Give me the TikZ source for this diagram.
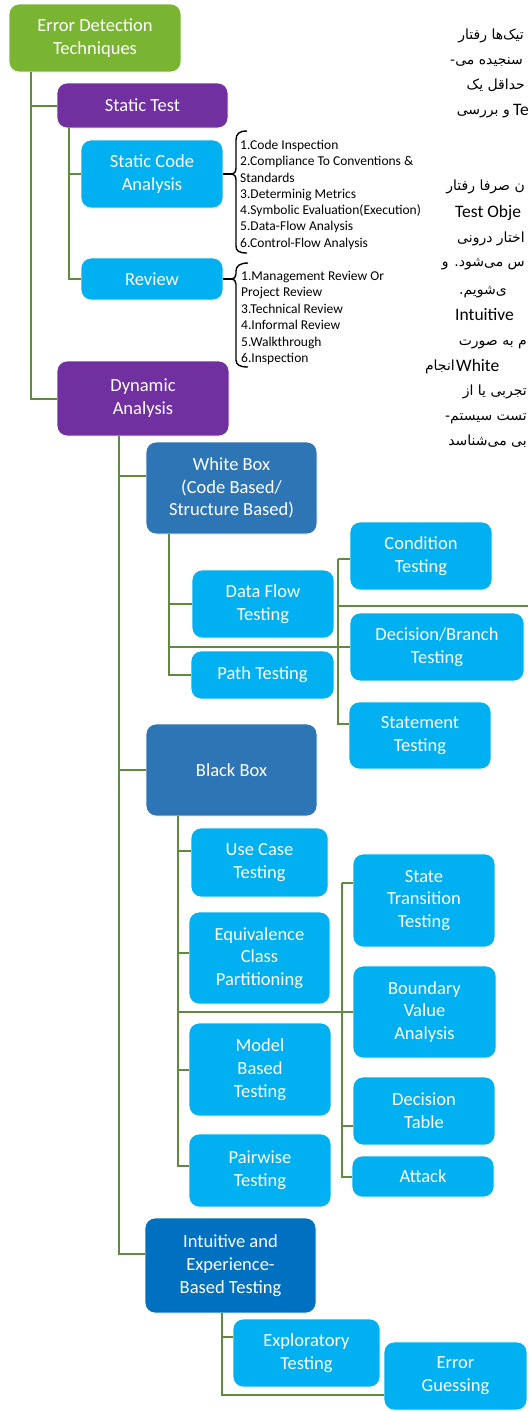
\documentclass[tikz,border=0pt]{standalone}
\usepackage{fontspec}
\setmainfont{Carlito}
\newfontfamily\fa[Script=Arabic]{DejaVu Sans}
\TeXXeTstate=1
\definecolor{cgreen}{HTML}{79B532}
\definecolor{cpurple}{HTML}{7030A0}
\definecolor{ccyan}{HTML}{00B0F0}
\definecolor{cblue}{HTML}{2E75B6}
\definecolor{cdblue}{HTML}{0070C0}
\definecolor{cline}{HTML}{5E8C3C}
\begin{document}
\begin{tikzpicture}[x=1pt,y=-1pt,
 box/.style={rectangle, rounded corners=10pt, draw=white, line width=0.8pt, text=white, align=center, font=\fontsize{18.5pt}{22.8pt}\selectfont, inner sep=0pt},
 conn/.style={draw=cline, line width=2pt},
 brc/.style={draw=black, line width=1.4pt, line join=round},
 lst/.style={anchor=base west, inner sep=0pt, font=\fontsize{13.5pt}{16pt}\selectfont},
 fatx/.style={anchor=base east, inner sep=0pt, font=\fa\fontsize{14pt}{16pt}\selectfont},
 latx/.style={anchor=base west, inner sep=0pt, font=\fontsize{17.5pt}{19pt}\selectfont}]
\useasboundingbox[fill=white] (0,0) rectangle (528,1411);

% boxes
\node[box, fill=cgreen, minimum width=172pt, minimum height=68pt] (root) at (95,38) {Error Detection\\Techniques};
\node[box, fill=cpurple, minimum width=171pt, minimum height=45pt] (static) at (142.5,105.5) {Static Test};
\node[box, fill=ccyan, minimum width=142pt, minimum height=68pt] (sca) at (152,174) {Static Code\\Analysis};
\node[box, fill=ccyan, minimum width=142pt, minimum height=42pt] (review) at (152,279) {Review};
\node[box, fill=cpurple, minimum width=172pt, minimum height=75pt] (dyn) at (143,398.5) {Dynamic\\Analysis};
\node[box, fill=cblue, minimum width=171pt, minimum height=92pt] (wb) at (231.5,488) {White Box\\(Code Based/\\Structure Based)};
\node[box, fill=ccyan, minimum width=142pt, minimum height=68pt] (dft) at (263,604) {Data Flow\\Testing};
\node[box, fill=ccyan, minimum width=143pt, minimum height=48pt] (pt) at (262.5,675) {Path Testing};
\node[box, fill=ccyan, minimum width=142pt, minimum height=68pt] (cond) at (421,556) {Condition\\Testing};
\node[box, fill=ccyan, minimum width=174pt, minimum height=68pt] (dec) at (437,647) {Decision/Branch\\Testing};
\node[box, fill=ccyan, minimum width=142pt, minimum height=67pt] (stmt) at (420,735.5) {Statement\\Testing};
\node[box, fill=cblue, minimum width=171pt, minimum height=92pt] (bb) at (231.5,770) {Black Box};
\node[box, fill=ccyan, minimum width=137pt, minimum height=69pt] (uc) at (259.5,862.5) {Use Case\\Testing};
\node[box, fill=ccyan, minimum width=141pt, minimum height=92pt] (eq) at (259.5,958) {Equivalence\\Class\\Partitioning};
\node[box, fill=ccyan, minimum width=142pt, minimum height=93pt] (mb) at (260,1069.5) {Model\\Based\\Testing};
\node[box, fill=ccyan, minimum width=142pt, minimum height=73pt] (pw) at (260,1170.5) {Pairwise\\Testing};
\node[box, fill=ccyan, minimum width=142pt, minimum height=93pt] (st) at (424,900.5) {State\\Transition\\Testing};
\node[box, fill=ccyan, minimum width=143pt, minimum height=92pt] (bva) at (424.5,1012) {Boundary\\Value\\Analysis};
\node[box, fill=ccyan, minimum width=142pt, minimum height=68pt] (dt) at (424,1111) {Decision\\Table};
\node[box, fill=ccyan, minimum width=142pt, minimum height=41pt] (att) at (423,1176.5) {Attack};
\node[box, fill=cdblue, minimum width=171pt, minimum height=95pt] (iebt) at (230.5,1265.5) {Intuitive and\\Experience-\\Based Testing};
\node[box, fill=ccyan, minimum width=147pt, minimum height=68pt] (exp) at (306.5,1353) {Exploratory\\Testing};
\node[box, fill=ccyan, minimum width=143pt, minimum height=68pt] (eg) at (455.5,1376) {Error\\Guessing};

% connectors
\draw[conn] ([xshift=22pt]root.south west) |- (static.west);
\draw[conn] ([xshift=22pt]root.south west) |- (dyn.west);
\draw[conn] ([xshift=12pt]static.south west) |- (sca.west);
\draw[conn] ([xshift=12pt]static.south west) |- (review.west);
\draw[conn] ([xshift=62pt]dyn.south west) |- ([yshift=12pt]wb.west);
\draw[conn] ([xshift=62pt]dyn.south west) |- (bb.west);
\draw[conn] ([xshift=62pt]dyn.south west) |- ([yshift=11.5pt]iebt.west);
\draw[conn] ([xshift=23pt]wb.south west) |- (dft.west);
\draw[conn] ([xshift=23pt]wb.south west) |- (pt.west);
\draw[conn] ([xshift=23pt]wb.south west) |- (dec.west);
\coordinate (t2) at ([xshift=-12pt,yshift=-3pt]cond.west);
\coordinate (offr) at (528,606);
\draw[conn] (t2) -- ([yshift=-3pt]cond.west);
\draw[conn] (t2) |- ([yshift=12pt]stmt.west);
\draw[conn] (t2 |- offr) -- (offr);
\draw[conn] ([xshift=32pt]bb.south west) |- ([yshift=11.5pt]uc.west);
\draw[conn] ([xshift=32pt]bb.south west) |- ([yshift=5pt]eq.west);
\draw[conn] ([xshift=32pt]bb.south west) |- (bva.west);
\draw[conn] ([xshift=32pt]bb.south west) |- (mb.west);
\draw[conn] ([xshift=32pt]bb.south west) |- ([yshift=5pt]pw.west);
\coordinate (t3) at ([xshift=-11pt,yshift=17.5pt]st.west);
\draw[conn] (t3) -- ([yshift=17.5pt]st.west);
\draw[conn] (t3) |- ([yshift=-15pt]dt.west);
\draw[conn] (t3) |- (att.west);
\draw[conn] ([xshift=77pt]iebt.south west) |- ([yshift=16pt]exp.west);
\draw[conn] ([xshift=77pt]iebt.south west) |- ([yshift=-19pt]eg.west);

% braces
\draw[brc] (sca.east) -- (232,174);
\draw[brc] (247,131) .. controls (239,131) and (236,134) .. (236,140) -- (236,168) .. controls (236,172) and (234,174) .. (232,174) .. controls (234,174) and (236,176) .. (236,180) -- (236,246) .. controls (236,251) and (239,253) .. (247,253);
\draw[brc] (review.east) -- (232,279);
\draw[brc] (248,263) .. controls (240,263) and (236,266) .. (236,271) -- (236,274) .. controls (236,277) and (234,279) .. (232,279) .. controls (234,279) and (236,281) .. (236,284) -- (236,360) .. controls (236,365) and (240,367) .. (248,367);

% lists
\foreach \t [count=\i] in {1.Code Inspection, 2.Compliance To Conventions \&, Standards, 3.Determinig Metrics, 4.Symbolic Evaluation(Execution), 5.Data-Flow Analysis, 6.Control-Flow Analysis}
  \node[lst] (sl\i) at (240,{149.5+16.25*(\i-1)}) {\t};
\foreach \t [count=\i] in {1.Management Review Or, Project Review, 3.Technical Review, 4.Informal Review, 5.Walkthrough, 6.Inspection}
  \node[lst] (rl\i) at (241,{280.5+16.4*(\i-1)}) {\t};

% background text fragments
\node[fatx] (p1) at (524,39) {\beginR تیک‌ها رفتار\endR};
\node[fatx] (p2) at (523,64) {\beginR سنجیده می-\endR};
\node[fatx] (p3) at (525,89) {\beginR حداقل یک\endR};
\node[fatx] (p4) at (510,114) {\beginR و بررسی\endR};
\node[latx] (p4l) at (513,115) {Te};
\node[fatx] (p5) at (525,190) {\beginR ن صرفا رفتار\endR};
\node[latx] (p6) at (455,217) {Test Obje};
\node[fatx] (p7) at (525,242) {\beginR اختار درونی\endR};
\node[fatx] (p8) at (525,266) {\beginR س می‌شود. و\endR};
\node[fatx] (p9) at (507,294) {\beginR ی‌شویم.\endR};
\node[latx] (p10) at (455,320) {Intuitive};
\node[fatx] (p11) at (527,345) {\beginR م به صورت\endR};
\node[fatx] (p12) at (455,370) {\beginR انجام\endR};
\node[latx] (p12l) at (456,371) {White};
\node[fatx] (p13) at (527,395) {\beginR تجربی یا از\endR};
\node[fatx] (p14) at (527,420) {\beginR تست سیستم-\endR};
\node[fatx] (p15) at (527,445) {\beginR بی می‌شناسد\endR};
\end{tikzpicture}
\end{document}
